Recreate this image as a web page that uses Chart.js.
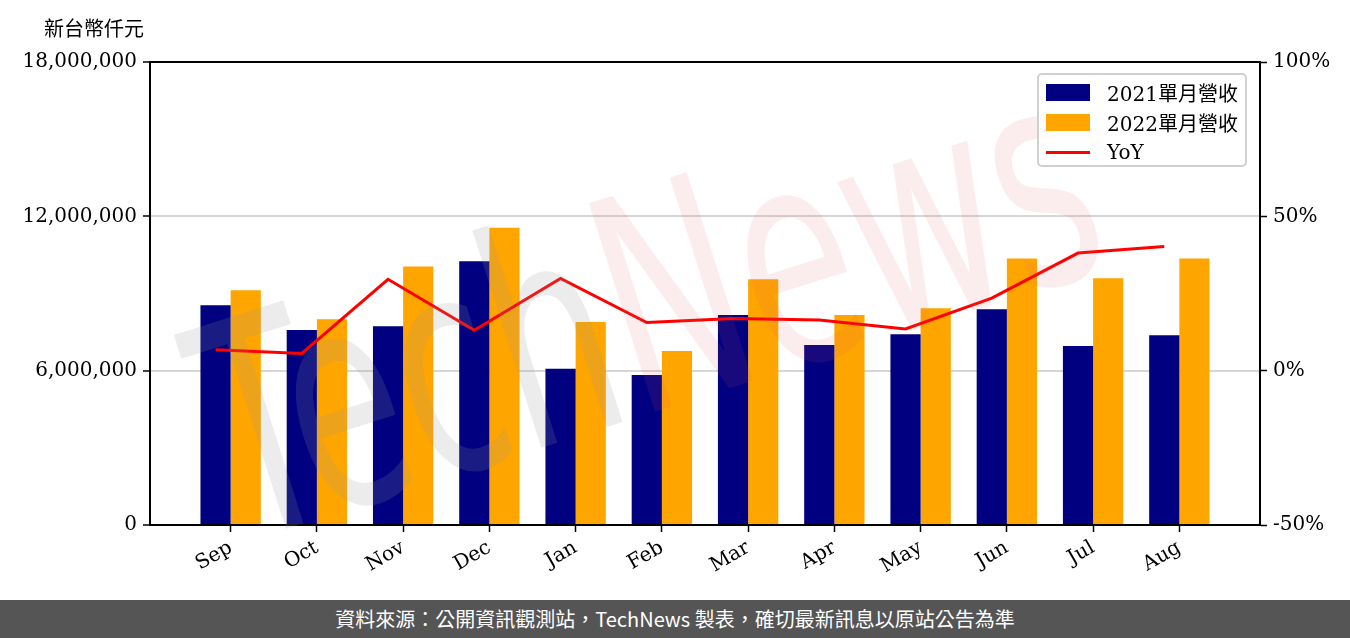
<!DOCTYPE html>
<html>
<head>
<meta charset="utf-8">
<script src="https://cdn.jsdelivr.net/npm/chart.js@4"></script>
<style>
  html, body { margin: 0; padding: 0; background: #fff; }
  #wrap { position: relative; width: 1350px; height: 638px; overflow: hidden; }
  #chart { position: absolute; left: 0; top: 0; }
  #unit { position: absolute; left: 44px; top: 13px; font: 20px 'Noto Sans CJK TC', serif; color: #000; }
  #legend { position: absolute; left: 1037px; top: 73px; width: 210px; height: 94px;
    border: 2px solid #d0d0d0; border-radius: 5px; background: rgba(255,255,255,0.85); box-sizing: border-box; }
  .item { position: absolute; left: 7px; height: 30px; display: flex; align-items: center;
    font: 20px 'DejaVu Serif', 'Noto Sans CJK TC', serif; color: #000; }
  .sw { width: 44px; height: 17px; margin-right: 17px; }
  .ln { width: 44px; height: 3px; margin-right: 17px; }
  #footer { position: absolute; left: 0; top: 600px; width: 1350px; height: 38px; background: #555;
    color: #fff; font: 20px 'Noto Sans CJK TC', sans-serif; text-align: center; line-height: 38px; }
</style>
</head>
<body>
<div id="wrap">
  <canvas id="chart" width="1350" height="600"></canvas>
  <div id="unit">新台幣仟元</div>
  <div id="legend"></div>
  <div id="footer">資料來源：公開資訊觀測站，TechNews 製表，確切最新訊息以原站公告為準</div>
</div>
<script>
// 月份與數據 (仟元)
const months = ['Sep', 'Oct', 'Nov', 'Dec', 'Jan', 'Feb', 'Mar', 'Apr', 'May', 'Jun', 'Jul', 'Aug'];
const rev2021 = [8540000, 7580000, 7730000, 10250000, 6070000, 5830000, 8160000, 7000000, 7420000, 8390000, 6960000, 7380000];
const rev2022 = [9130000, 8000000, 10050000, 11560000, 7890000, 6760000, 9550000, 8160000, 8430000, 10360000, 9590000, 10360000];
const yoy = [6.8, 5.6, 29.6, 13.1, 29.9, 15.6, 16.9, 16.4, 13.5, 23.5, 38.1, 40.2];
const leftTicks = [0, 6000000, 12000000, 18000000];
const rightTicks = [-50, 0, 50, 100];

Chart.defaults.font.family = "'DejaVu Serif', 'Noto Sans CJK TC', serif";
Chart.defaults.font.size = 20;
Chart.defaults.color = '#000';

// 上框線 + 浮水印
const framePlugin = {
  id: 'frame',
  afterDatasetsDraw(chart) {
    const c = chart.ctx;
    c.save();
    c.translate(655, 330);
    c.rotate(-17.6 * Math.PI / 180);
    c.scale(0.62, 1);
    c.font = '300px "DejaVu Sans"';
    c.textBaseline = 'middle';
    const w1 = c.measureText('Tech').width, w2 = c.measureText('News').width;
    const x0 = -(w1 + w2) / 2;
    c.fillStyle = 'rgba(150,150,150,0.18)';
    c.fillText('Tech', x0, 0);
    c.fillStyle = 'rgba(220,90,90,0.11)';
    c.fillText('News', x0 + w1, 0);
    c.restore();
  },
  afterDraw(chart) {
    const a = chart.chartArea, c = chart.ctx;
    c.save();
    c.strokeStyle = '#000';
    c.lineWidth = 2;
    c.beginPath();
    c.moveTo(a.left - 1, a.top);
    c.lineTo(a.right + 1, a.top);
    c.stroke();
    c.restore();
  }
};

const revChart = new Chart(document.getElementById('chart').getContext('2d'), {
  type: 'bar',
  data: {
    datasets: [
      {
        type: 'line',
        label: 'YoY',
        data: yoy.map((v, i) => ({ x: i, y: v })),
        borderColor: '#ff0000',
        backgroundColor: '#ff0000',
        borderWidth: 3,
        pointRadius: 0,
        yAxisID: 'y1',
        order: 0
      },
      {
        label: '2021單月營收',
        data: rev2021.map((v, i) => ({ x: i + 0.175, y: v })),
        backgroundColor: '#000080',
        yAxisID: 'y',
        order: 1
      },
      {
        label: '2022單月營收',
        data: rev2022.map((v, i) => ({ x: i + 0.175, y: v })),
        backgroundColor: '#ffa500',
        yAxisID: 'y',
        order: 1
      }
    ]
  },
  options: {
    responsive: false,
    animation: false,
    categoryPercentage: 0.7,
    barPercentage: 1.0,
    layout: { padding: { top: 62, left: 0, right: 0, bottom: 0 } },
    scales: {
      x: {
        type: 'linear',
        offset: false,
        min: -0.76,
        max: 12.11,
        afterBuildTicks: s => { s.ticks = months.map((m, i) => ({ value: i + 0.175 })); },
        afterFit: s => { s.height = 75; },
        ticks: {
          minRotation: 30, maxRotation: 30, padding: 4,
          callback: (v, idx) => months[idx]
        },
        grid: { offset: false, drawOnChartArea: false, tickLength: 7, tickColor: '#000', tickWidth: 1.5 },
        border: { color: '#000', width: 2 }
      },
      y: {
        position: 'left',
        min: 0,
        max: 18000000,
        afterBuildTicks: s => { s.ticks = leftTicks.map(v => ({ value: v })); },
        afterFit: s => { s.width = 150; },
        ticks: { padding: 6, callback: v => v.toLocaleString('en-US') },
        grid: { color: '#d6d6d6', lineWidth: 2, tickLength: 7, tickColor: '#000', tickWidth: 1.5 },
        border: { color: '#000', width: 2 }
      },
      y1: {
        position: 'right',
        min: -50,
        max: 100,
        afterBuildTicks: s => { s.ticks = rightTicks.map(v => ({ value: v })); },
        afterFit: s => { s.width = 90; },
        ticks: { padding: 6, callback: v => v + '%' },
        grid: { drawOnChartArea: false, tickLength: 7, tickColor: '#000', tickWidth: 1.5 },
        border: { color: '#000', width: 2 }
      }
    },
    plugins: {
      legend: { display: false },
      tooltip: { enabled: false }
    }
  },
  plugins: [framePlugin]
});

// HTML 圖例
const legendEl = document.getElementById('legend');
[1, 2, 0].forEach((di, row) => {
  const ds = revChart.data.datasets[di];
  const item = document.createElement('div');
  item.className = 'item';
  item.style.top = (2 + row * 30) + 'px';
  const mark = document.createElement('span');
  mark.className = ds.type === 'line' ? 'ln' : 'sw';
  mark.style.background = ds.type === 'line' ? ds.borderColor : ds.backgroundColor;
  item.appendChild(mark);
  item.appendChild(document.createTextNode(ds.label));
  legendEl.appendChild(item);
});
</script>
</body>
</html>
